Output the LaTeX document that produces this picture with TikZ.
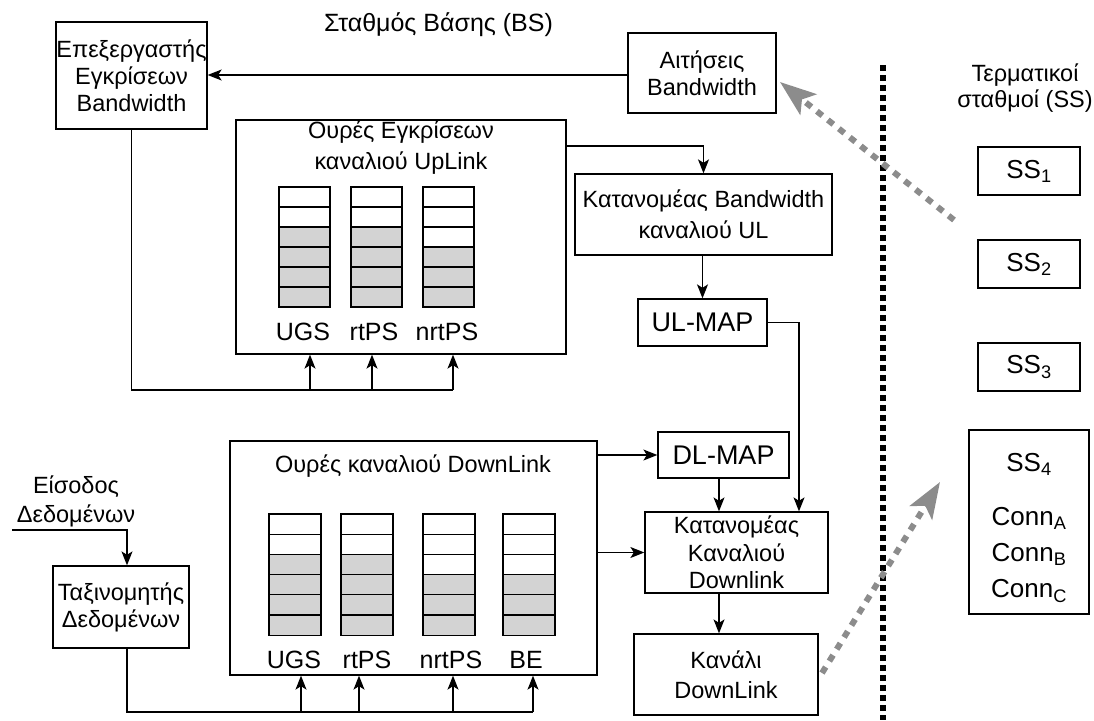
\documentclass[tikz,border=0pt]{standalone}
\usepackage{fontspec}
\setmainfont{Liberation Sans}
\usetikzlibrary{arrows.meta}
\newcommand\fsz[2]{\fontsize{#1}{#2}\selectfont}
\definecolor{qgray}{RGB}{211,211,211}
\definecolor{agray}{RGB}{140,140,140}
\begin{document}
\begin{tikzpicture}[x=1pt,y=-1pt,
  box/.style={draw, line width=1.3pt, inner sep=0pt, align=center, font=\fsz{23.5}{27}},
  lbl/.style={inner sep=0pt, align=center, font=\fsz{23.5}{27}},
  arr/.style={line width=1.3pt, -{Stealth[length=14pt,width=11pt,inset=3.5pt]}},
  ln/.style={line width=1.3pt},
  garr/.style={line width=6pt, draw=agray, dash pattern=on 7pt off 7pt, -{Stealth[length=36pt,width=26pt,inset=8pt,fill=agray]}},
  sepline/.style={line width=6pt, dash pattern=on 6pt off 4pt},
  cell/.style={draw, line width=1.3pt},
  qlbl/.style={inner sep=0pt, font=\fsz{25}{30}},
  mapbox/.style={box, font=\fsz{27}{30}},
]
\useasboundingbox (0,0) rectangle (1094,720);

% titles
\node[lbl, font=\fsz{25}{28}] (bstitle) at (438.5,25) {Σταθμός Βάσης (BS)};
\node[lbl, font=\fsz{23.5}{26}] (sstitle) at (1025,88) {Τερματικοί\\σταθμοί (SS)};

% base station boxes
\node[box, minimum width=151, minimum height=107] (A) at (131.5,75.5) {Επεξεργαστής\\Εγκρίσεων\\Bandwidth};
\node[box, minimum width=148, minimum height=80] (R) at (702,73) {Αιτήσεις\\Bandwidth};
\node[box, minimum width=330, minimum height=234] (UL) at (401,237) {};
\node[lbl, font=\fsz{23.5}{31}] (ULt) at (401,148) {Ουρές Εγκρίσεων\\καναλιού UpLink};
\node[box, font=\fsz{23.5}{31}, minimum width=257, minimum height=81] (KBW) at (703.5,214.5) {Κατανομέας Bandwidth\\καναλιού UL};
\node[mapbox, minimum width=129, minimum height=47] (ULMAP) at (702.5,322.5) {UL-MAP};
\node[mapbox, minimum width=131, minimum height=46] (DLMAP) at (723.5,455) {DL-MAP};
\node[box, font=\fsz{23.5}{27.5}, minimum width=183, minimum height=81] (KK) at (736.5,552.5) {Κατανομέας\\Καναλιού\\Downlink};
\node[box, font=\fsz{23.5}{30}, minimum width=184, minimum height=81] (KD) at (726,674.5) {Κανάλι\\DownLink};
\node[box, minimum width=367, minimum height=234] (DL) at (413.5,558) {};
\node[lbl] (DLt) at (413,466) {Ουρές καναλιού DownLink};
\node[box, minimum width=136, minimum height=82] (T) at (121,607) {Ταξινομητής\\Δεδομένων};
\node[lbl, font=\fsz{23.5}{29}] (IN) at (76,501) {Είσοδος\\Δεδομένων};

% UL queues
\foreach \qx/\ng in {279/4,351/4,423/3}{
  \fill[qgray] (\qx,{307-20*\ng}) rectangle ++(51,{20*\ng});
  \foreach \j in {0,...,5}{
    \draw[cell] (\qx,{187+20*\j}) rectangle ++(51,20);
  }
}
\node[qlbl] (u1) at (303,332) {UGS};
\node[qlbl] (u2) at (374,332) {rtPS};
\node[qlbl] (u3) at (447,332) {nrtPS};

% DL queues
\foreach \qx/\ng in {269/4,341/4,423/3,503/3}{
  \fill[qgray] (\qx,{635.2-20.2*\ng}) rectangle ++(52,{20.2*\ng});
  \foreach \j in {0,...,5}{
    \draw[cell] (\qx,{514+20.2*\j}) rectangle ++(52,20.2);
  }
}
\node[qlbl] (d1) at (294,660) {UGS};
\node[qlbl] (d2) at (367,660) {rtPS};
\node[qlbl] (d3) at (451,660) {nrtPS};
\node[qlbl] (d4) at (526,660) {BE};

% subscriber stations
\node[box, font=\fsz{26}{30}, minimum width=102, minimum height=48] (SS1) at (1029,171) {SS\textsubscript{1}};
\node[box, font=\fsz{26}{30}, minimum width=102, minimum height=48] (SS2) at (1029,264) {SS\textsubscript{2}};
\node[box, font=\fsz{26}{30}, minimum width=102, minimum height=48] (SS3) at (1029,367) {SS\textsubscript{3}};
\node[box, minimum width=120, minimum height=184] (SS4) at (1029,522) {};
\node[lbl, font=\fsz{26}{30}] (SS4t) at (1029,464) {SS\textsubscript{4}};
\node[lbl, font=\fsz{26}{30}] (cA) at (1029,518) {Conn\textsubscript{A}};
\node[lbl, font=\fsz{26}{30}] (cB) at (1029,554) {Conn\textsubscript{B}};
\node[lbl, font=\fsz{26}{30}] (cC) at (1029,591) {Conn\textsubscript{C}};

% helper coordinates
\coordinate (yreq) at (0,75);
\coordinate (yul) at (0,146);
\coordinate (ulbus) at (0,390);
\coordinate (q1) at (310,0);
\coordinate (q2) at (372,0);
\coordinate (q3) at (453,0);
\coordinate (dlbus) at (0,712);
\coordinate (p1) at (301,0);
\coordinate (p2) at (359,0);
\coordinate (p3) at (453,0);
\coordinate (p4) at (533,0);
\coordinate (xr) at (799,0);
\coordinate (xc) at (719,0);
\coordinate (inl) at (12,530);
\coordinate (inc) at (127,530);
\coordinate (sept) at (883,65);
\coordinate (sepb) at (883,720);
\coordinate (g1s) at (954,220);
\coordinate (g1e) at (780,82);
\coordinate (g2s) at (822,673);
\coordinate (g2e) at (940,482);

% connectors
\draw[arr] (R.west |- yreq) -- (A.east |- yreq);
\draw[arr] (UL.east |- yul) -| (KBW.north);
\draw[arr] (KBW.south -| ULMAP.north) -- (ULMAP.north);
\draw[ln] (A.south) |- (ulbus -| q3);
\foreach \q in {q1,q2,q3}{ \draw[arr] (ulbus -| \q) -- (UL.south -| \q); }
\draw[arr] (ULMAP.east) -| (KK.north -| xr);
\draw[arr] (DLMAP.south -| xc) -- (KK.north -| xc);
\draw[arr] (KK.south -| xc) -- (KD.north -| xc);
\draw[arr] (DL.east |- DLMAP.west) -- (DLMAP.west);
\draw[arr] (DL.east |- KK.west) -- (KK.west);
\draw[arr] (inl) -- (inc) -- (T.north -| inc);
\draw[ln] (T.south -| inc) |- (dlbus -| p4);
\foreach \p in {p1,p2,p3,p4}{ \draw[arr] (dlbus -| \p) -- (DL.south -| \p); }

% separator and radio links
\draw[sepline] (sept) -- (sepb);
\draw[garr] (g1s) -- (g1e);
\draw[garr] (g2s) -- (g2e);
\end{tikzpicture}
\end{document}
